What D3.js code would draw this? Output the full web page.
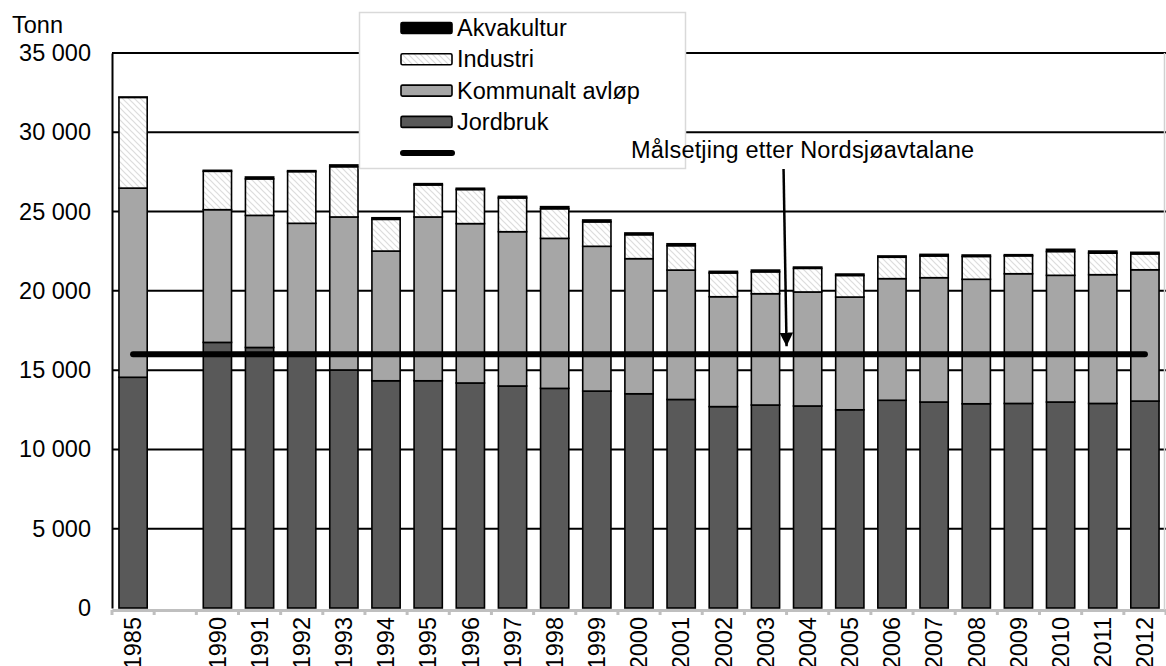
<!DOCTYPE html>
<html>
<head>
<meta charset="utf-8">
<script src="https://cdn.jsdelivr.net/npm/d3@7"></script>
<style>
  body { margin: 0; background: #fff; }
  text { font-family: "Liberation Sans", Arial, sans-serif; }
</style>
</head>
<body>
<script>
'use strict';

// categories on the x axis (one empty slot between 1985 and 1990)
const categories = ["1985", "", "1990", "1991", "1992", "1993", "1994", "1995", "1996", "1997", "1998", "1999",
  "2000", "2001", "2002", "2003", "2004", "2005", "2006", "2007", "2008", "2009", "2010", "2011", "2012"];

const years = ["1985", "1990", "1991", "1992", "1993", "1994", "1995", "1996", "1997", "1998", "1999",
  "2000", "2001", "2002", "2003", "2004", "2005", "2006", "2007", "2008", "2009", "2010", "2011", "2012"];

// tonn
const jordbruk   = [14550, 16750, 16430, 16100, 15010, 14330, 14330, 14190, 14000, 13850, 13680, 13510,
  13150, 12700, 12800, 12740, 12500, 13100, 12990, 12880, 12900, 12990, 12900, 13050];
const kommunalt  = [11930, 8370, 8330, 8160, 9650, 8180, 10330, 10050, 9730, 9460, 9130, 8520,
  8160, 6930, 7020, 7190, 7110, 7670, 7840, 7850, 8180, 7990, 8120, 8280];
const industri   = [5720, 2420, 2300, 3260, 3170, 2000, 2020, 2150, 2130, 1870, 1540, 1510,
  1540, 1500, 1380, 1490, 1360, 1350, 1370, 1440, 1130, 1500, 1360, 1000];
const akvakultur = [20, 60, 120, 60, 110, 100, 80, 80, 100, 130, 120, 110,
  120, 100, 110, 80, 90, 80, 100, 90, 70, 140, 130, 100];

const target = 16000;
const targetLabel = "Målsetjing etter Nordsjøavtalane";
const yTicks = [0, 5000, 10000, 15000, 20000, 25000, 30000, 35000];

const seriesNames = ["Akvakultur", "Industri", "Kommunalt avløp", "Jordbruk"];

const W = 1166, H = 666;
const margin = {left: 112, right: 1166, top: 53, bottom: 608};
const fontSize = "23.5px";

const svg = d3.select("body").append("svg")
  .attr("width", W)
  .attr("height", H);

// hatch for Industri
const defs = svg.append("defs");
const hatch = defs.append("pattern")
  .attr("id", "hatch")
  .attr("patternUnits", "userSpaceOnUse")
  .attr("width", 6)
  .attr("height", 6);
hatch.append("rect")
  .attr("width", 6)
  .attr("height", 6)
  .attr("fill", "#fff");
hatch.append("path")
  .attr("d", "M0,0L6,6M-1,5L1,7M5,-1L7,1")
  .attr("stroke", "#dcdcdc")
  .attr("stroke-width", 1.2);

const x = d3.scaleBand()
  .domain(categories)
  .range([margin.left, margin.right])
  .paddingInner(0.33)
  .paddingOuter(0.165);

const y = d3.scaleLinear()
  .domain([0, 35000])
  .range([margin.bottom, margin.top]);

const fmt = v => d3.format(",")(v).replace(/,/g, " ");

// gridlines
svg.append("g")
  .selectAll("line")
  .data(yTicks.filter(d => d > 0))
  .join("line")
    .attr("x1", margin.left)
    .attr("x2", margin.right)
    .attr("y1", d => y(d))
    .attr("y2", d => y(d))
    .attr("stroke", "#000")
    .attr("stroke-width", 2);

// y axis
const yAxis = svg.append("g")
  .attr("transform", "translate(" + margin.left + ",0)")
  .call(d3.axisLeft(y).tickValues(yTicks).tickSize(0).tickPadding(21).tickFormat(fmt));
yAxis.select(".domain").attr("stroke", "#000").attr("stroke-width", 2);
yAxis.selectAll("text")
  .attr("font-size", fontSize)
  .attr("font-family", "Liberation Sans, Arial, sans-serif")
  .attr("fill", "#000");

svg.append("text")
  .attr("x", 12)
  .attr("y", 33)
  .attr("font-size", fontSize)
  .text("Tonn");

// stacked bars
const rows = years.map((yr, i) => ({
  year: yr, Jordbruk: jordbruk[i], "Kommunalt avløp": kommunalt[i],
  Industri: industri[i], Akvakultur: akvakultur[i]
}));
const stack = d3.stack().keys(["Jordbruk", "Kommunalt avløp", "Industri", "Akvakultur"]);
const fills = {
  "Jordbruk": "#595959",
  "Kommunalt avløp": "#a6a6a6",
  "Industri": "url(#hatch)",
  "Akvakultur": "#000"
};

svg.append("g")
  .selectAll("g")
  .data(stack(rows))
  .join("g")
    .attr("fill", d => fills[d.key])
  .selectAll("rect")
  .data(d => d)
  .join("rect")
    .attr("x", d => x(d.data.year))
    .attr("width", x.bandwidth())
    .attr("y", d => y(d[1]))
    .attr("height", d => y(d[0]) - y(d[1]))
    .attr("stroke", "#000")
    .attr("stroke-width", 1.6);

// target line
svg.append("line")
  .attr("x1", x(years[0]) + x.bandwidth() / 2)
  .attr("x2", x(years[years.length - 1]) + x.bandwidth() / 2)
  .attr("y1", y(target))
  .attr("y2", y(target))
  .attr("stroke", "#000")
  .attr("stroke-width", 6)
  .attr("stroke-linecap", "round");

// x axis
const step = x.step();
const xAxis = svg.append("g")
  .attr("transform", "translate(0," + (margin.bottom + 2) + ")")
  .call(d3.axisBottom(x).tickSize(0).tickPadding(0));
xAxis.select(".domain").attr("stroke", "#bfbfbf").attr("stroke-width", 3);
xAxis.selectAll("text")
  .attr("font-size", fontSize)
  .attr("font-family", "Liberation Sans, Arial, sans-serif")
  .attr("fill", "#000")
  .style("text-anchor", "end")
  .attr("transform", "rotate(-90)")
  .attr("x", -7)
  .attr("y", 0)
  .attr("dy", "0.35em");

svg.append("g")
  .selectAll("line")
  .data(d3.range(categories.length + 1))
  .join("line")
    .attr("x1", i => margin.left + i * step)
    .attr("x2", i => margin.left + i * step)
    .attr("y1", margin.bottom + 2)
    .attr("y2", margin.bottom + 7)
    .attr("stroke", "#bfbfbf")
    .attr("stroke-width", 3);

svg.append("line")
  .attr("x1", W - 1.5).attr("x2", W - 1.5)
  .attr("y1", margin.top).attr("y2", margin.bottom + 2)
  .attr("stroke", "#d0d0d0")
  .attr("stroke-width", 1.5);

// legend
const lg = svg.append("g").attr("class", "legend");
lg.append("rect")
  .attr("x", 359.5)
  .attr("y", 12.5)
  .attr("width", 326)
  .attr("height", 156)
  .attr("fill", "#fff")
  .attr("stroke", "#d9d9d9")
  .attr("stroke-width", 1.5);

seriesNames.forEach((name, i) => {
  const cy = 28 + i * 31.3;
  lg.append("rect")
    .attr("x", 401)
    .attr("y", cy - 5.5)
    .attr("width", 51)
    .attr("height", 11)
    .attr("rx", 1.5)
    .attr("fill", fills[name])
    .attr("stroke", "#000")
    .attr("stroke-width", 1.6);
  lg.append("text")
    .attr("x", 457)
    .attr("y", cy + 8)
    .attr("font-size", fontSize)
    .text(name);
});
lg.append("line")
  .attr("x1", 403)
  .attr("x2", 452)
  .attr("y1", 153)
  .attr("y2", 153)
  .attr("stroke", "#000")
  .attr("stroke-width", 6)
  .attr("stroke-linecap", "round");

// annotation
const ax = x("2004") - (step - x.bandwidth()) / 2;
svg.append("text")
  .attr("x", 631)
  .attr("y", 158)
  .attr("font-size", fontSize)
  .attr("textLength", 343)
  .text(targetLabel);

defs.append("marker")
  .attr("id", "arrow")
  .attr("viewBox", "0 0 10 10")
  .attr("refX", 10)
  .attr("refY", 5)
  .attr("markerWidth", 5.5)
  .attr("markerHeight", 5.5)
  .attr("markerUnits", "strokeWidth")
  .attr("orient", "auto")
  .append("path")
    .attr("d", "M0,0L10,5L0,10z")
    .attr("fill", "#000");

svg.append("line")
  .attr("x1", ax - 3)
  .attr("y1", 169)
  .attr("x2", ax)
  .attr("y2", y(target) - 8)
  .attr("stroke", "#000")
  .attr("stroke-width", 2.5)
  .attr("marker-end", "url(#arrow)");
</script>
</body>
</html>
